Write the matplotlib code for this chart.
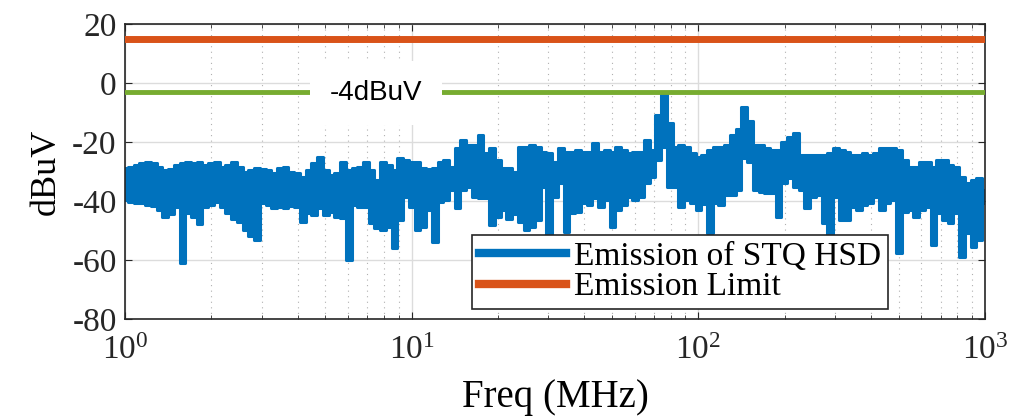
import numpy as np
import matplotlib.pyplot as plt
from matplotlib.ticker import LogLocator, NullFormatter

plt.rcParams['font.family'] = 'Liberation Serif'
plt.rcParams['mathtext.fontset'] = 'custom'
plt.rcParams['mathtext.rm'] = 'Liberation Serif'
plt.rcParams['mathtext.it'] = 'Liberation Serif:italic'
plt.rcParams['axes.unicode_minus'] = False

# Frequency samples (MHz), read along the log axis
freq_mhz = [
    1.000, 1.047, 1.096, 1.148, 1.202, 1.259, 1.318, 1.380, 1.445, 1.514,
    1.585, 1.660, 1.738, 1.820, 1.905, 1.995, 2.089, 2.188, 2.291, 2.399,
    2.512, 2.630, 2.754, 2.884, 3.020, 3.162, 3.311, 3.467, 3.631, 3.802,
    3.981, 4.169, 4.365, 4.571, 4.786, 5.012, 5.248, 5.495, 5.754, 6.026,
    6.310, 6.607, 6.918, 7.244, 7.586, 7.943, 8.318, 8.710, 9.120, 9.550,
    10.00, 10.47, 10.96, 11.48, 12.02, 12.59, 13.18, 13.80, 14.45, 15.14,
    15.85, 16.60, 17.38, 18.20, 19.05, 19.95, 20.89, 21.88, 22.91, 23.99,
    25.12, 26.30, 27.54, 28.84, 30.20, 31.62, 33.11, 34.67, 36.31, 38.02,
    39.81, 41.69, 43.65, 45.71, 47.86, 50.12, 52.48, 54.95, 57.54, 60.26,
    63.10, 66.07, 69.18, 72.44, 75.86, 79.43, 83.18, 87.10, 91.20, 95.50,
    100.0, 104.7, 109.6, 114.8, 120.2, 125.9, 131.8, 138.0, 144.5, 151.4,
    158.5, 166.0, 173.8, 182.0, 190.5, 199.5, 208.9, 218.8, 229.1, 239.9,
    251.2, 263.0, 275.4, 288.4, 302.0, 316.2, 331.1, 346.7, 363.1, 380.2,
    398.1, 416.9, 436.5, 457.1, 478.6, 501.2, 524.8, 549.5, 575.4, 602.6,
    631.0, 660.7, 691.8, 724.4, 758.6, 794.3, 831.8, 871.0, 912.0, 955.0,
    1000.0,
]

# Upper edge of the measured emission (dBuV)
emission_top = [
    -28.9, -28.4, -27.8, -27.2, -26.7, -27.0, -28.4, -29.5, -29.3, -27.8,
    -27.0, -26.7, -27.2, -26.7, -27.8, -27.2, -26.7, -28.4, -27.8, -26.7,
    -28.4, -30.1, -29.5, -28.9, -29.3, -29.5, -30.4, -28.9, -28.4, -30.1,
    -30.6, -32.0, -29.5, -27.2, -25.0, -29.5, -31.2, -30.6, -26.7, -29.5,
    -28.9, -28.4, -26.7, -29.5, -32.9, -26.7, -27.8, -29.5, -25.5, -26.1,
    -26.7, -26.7, -28.9, -29.3, -28.9, -26.7, -26.1, -28.4, -22.1, -19.3,
    -21.0, -21.0, -17.6, -23.8, -22.1, -26.1, -28.9, -28.9, -30.0, -21.6,
    -21.6, -21.0, -21.6, -23.3, -23.8, -26.7, -22.1, -23.3, -23.3, -22.7,
    -23.3, -23.3, -20.5, -23.3, -22.7, -23.3, -21.6, -22.7, -23.8, -23.3,
    -23.3, -19.3, -22.7, -11.0, -3.7, -13.5, -21.6, -21.0, -21.6, -23.8,
    -25.0, -24.4, -22.7, -21.6, -21.6, -21.0, -17.6, -15.5, -8.0, -13.0,
    -21.0, -21.0, -22.1, -22.7, -22.7, -19.9, -18.2, -17.1, -24.4, -24.4,
    -24.4, -24.4, -24.4, -23.8, -22.1, -22.7, -23.3, -24.4, -24.4, -23.8,
    -24.4, -23.8, -22.1, -22.1, -22.1, -22.7, -26.1, -28.4, -28.4, -26.7,
    -26.7, -28.4, -26.1, -26.1, -27.8, -28.4, -31.8, -34.0, -32.9, -32.3,
    -36.3,
]

# Lower edge of the measured emission (dBuV)
emission_bottom = [
    -39.7, -40.2, -40.6, -40.8, -41.4, -41.7, -43.1, -45.3, -44.4, -42.1,
    -61.1, -44.2, -45.3, -47.8, -42.0, -41.4, -40.2, -41.9, -44.2, -46.2,
    -47.0, -49.8, -51.9, -53.2, -40.8, -41.4, -42.5, -42.1, -42.5, -41.7,
    -41.9, -47.0, -44.2, -44.7, -42.5, -44.7, -43.6, -45.3, -45.9, -60.0,
    -41.4, -41.9, -41.9, -47.6, -49.3, -49.8, -48.7, -56.0, -46.4, -38.5,
    -41.9, -49.8, -48.7, -43.1, -53.8, -40.2, -39.7, -36.3, -42.5, -36.3,
    -35.1, -38.5, -39.1, -39.1, -48.1, -45.3, -43.0, -46.0, -44.5, -47.0,
    -49.8, -48.7, -46.4, -35.1, -55.0, -38.5, -34.0, -50.4, -44.2, -43.6,
    -40.8, -41.4, -39.1, -41.9, -39.7, -48.7, -43.1, -41.4, -38.5, -39.7,
    -38.5, -34.0, -31.8, -26.1, -21.6, -35.1, -35.1, -41.9, -39.7, -40.8,
    -43.1, -41.0, -51.0, -40.8, -41.4, -38.0, -38.0, -36.3, -25.5, -26.7,
    -36.3, -36.8, -37.4, -37.4, -45.3, -34.0, -32.3, -35.1, -36.3, -42.5,
    -38.5, -38.0, -47.6, -52.1, -38.5, -46.4, -46.4, -41.9, -43.1, -41.4,
    -40.8, -38.5, -43.1, -40.8, -39.7, -57.7, -43.6, -43.1, -45.3, -43.1,
    -41.9, -54.9, -44.2, -46.4, -47.6, -44.2, -58.9, -51.0, -55.5, -53.2,
    -40.8,
]

limit_x = [1, 1000]
limit_level = [15, 15]
target_level = [-3, -3]
target_text = '-4dBuV'

blue = '#0072BD'
orange = '#D95319'
green = '#77AC30'

fig = plt.figure(figsize=(10.3, 4.17), dpi=100)
ax = fig.add_axes([0.1214, 0.235, 0.8349, 0.7074])

# Dense sweep drawn as a stepped band between its upper and lower edges
ax.fill_between(freq_mhz, emission_bottom, emission_top, step='mid',
                color=blue, lw=0, zorder=2)
ax.plot(freq_mhz, emission_top, drawstyle='steps-mid', color=blue, lw=2.2,
        zorder=2, label='Emission of STQ HSD')
ax.plot(freq_mhz, emission_bottom, drawstyle='steps-mid', color=blue, lw=2.2,
        zorder=2)
ax.plot(limit_x, limit_level, color=orange, lw=5, zorder=3, label='Emission Limit')
ax.plot(limit_x, target_level, color=green, lw=3.5, zorder=3)

ax.text(7.5, -3.4, target_text, fontsize=20, family='Liberation Sans',
        ha='center', va='center', zorder=5,
        bbox=dict(boxstyle='square,pad=0.7', fc='white', ec='none'))

ax.set_xscale('log')
ax.set_xlim(1, 1000)
ax.set_ylim(-80, 20)
ax.set_yticks([-80, -60, -40, -20, 0, 20])
ax.xaxis.set_minor_locator(LogLocator(base=10, subs=np.arange(2, 10), numticks=20))
ax.xaxis.set_minor_formatter(NullFormatter())

ax.set_axisbelow(True)
ax.grid(which='major', color='#dcdcdc', lw=1, ls='-')
ax.grid(which='minor', axis='x', color='#b0b0b0', lw=0.8, ls=(0, (1, 4)))

for s in ax.spines.values():
    s.set_color('#262626')
    s.set_linewidth(1.2)
ax.tick_params(which='both', direction='in', top=True, right=True,
               colors='#262626', labelsize=24)
ax.tick_params(which='major', length=5)
ax.tick_params(which='minor', length=3)
ax.tick_params(axis='x', pad=12)
ax.tick_params(axis='y', pad=6)

ax.set_xlabel('Freq (MHz)', fontsize=28, labelpad=9)
ax.set_ylabel('dBuV', fontsize=26, labelpad=7)

leg = ax.legend(loc='lower right', bbox_to_anchor=(0.887, 0.034),
                borderaxespad=0, fontsize=24, fancybox=False, framealpha=1,
                edgecolor='#262626', handlelength=2.6, handletextpad=0.25,
                borderpad=0.2, labelspacing=0.0)
leg.get_frame().set_linewidth(1.2)
for h in leg.get_lines():
    h.set_linewidth(6)

fig.savefig('out.png', dpi=100)
